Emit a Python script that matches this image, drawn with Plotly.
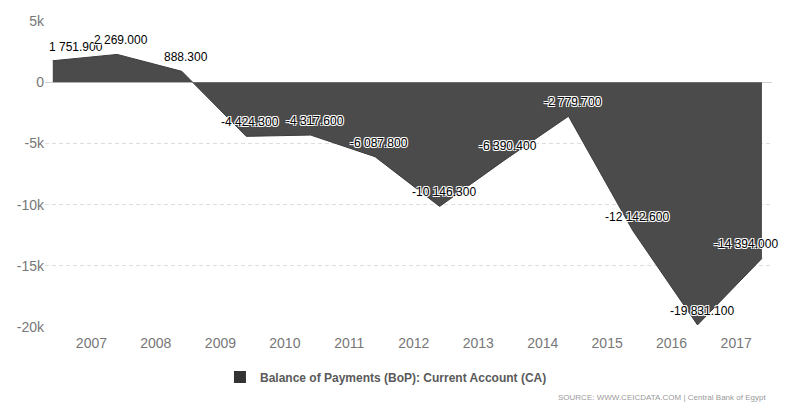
import plotly.graph_objects as go

# Data (annual, fiscal year ending June)
periods = ["2006-06-30", "2007-06-30", "2008-06-30", "2009-06-30", "2010-06-30", "2011-06-30",
           "2012-06-30", "2013-06-30", "2014-06-30", "2015-06-30", "2016-06-30", "2017-06-30"]
current_account = [1751.9, 2269.0, 888.3, -4424.3, -4317.6, -6087.8,
                   -10146.3, -6390.4, -2779.7, -12142.6, -19831.1, -14394.0]
year_ticks = ["2007-01-01", "2008-01-01", "2009-01-01", "2010-01-01", "2011-01-01", "2012-01-01",
              "2013-01-01", "2014-01-01", "2015-01-01", "2016-01-01", "2017-01-01"]
year_labels = ["2007", "2008", "2009", "2010", "2011", "2012", "2013", "2014", "2015", "2016", "2017"]
y_ticks = [5000, 0, -5000, -10000, -15000, -20000]
y_labels = ["5k", "0", "-5k", "-10k", "-15k", "-20k"]
series_name = "Balance of Payments (BoP): Current Account (CA)"
source_text = "SOURCE: WWW.CEICDATA.COM | Central Bank of Egypt"

FONT = "Liberation Sans, Arial, sans-serif"

fig = go.Figure()
fig.add_trace(go.Scatter(
    x=periods, y=current_account, name=series_name,
    mode="lines", fill="tozeroy",
    fillcolor="#4b4b4b", line=dict(color="#3c3c3c", width=1),
    hoverinfo="x+y", showlegend=False,
))
# legend entry drawn as a square swatch, like the original
fig.add_trace(go.Scatter(
    x=[None], y=[None], name=series_name, mode="markers",
    marker=dict(symbol="square", size=12, color="#333333"),
    showlegend=True, hoverinfo="skip",
))


def fmt(v):
    return f"{v:,.3f}".replace(",", " ")


outline = "1px 1px 0 #fff, -1px -1px 0 #fff, 1px -1px 0 #fff, -1px 1px 0 #fff"
n = len(periods)
for i, (p, v) in enumerate(zip(periods, current_account)):
    if i == 0:
        xanchor, xshift = "left", -6
    elif i == n - 1:
        xanchor, xshift = "right", 18
    else:
        xanchor, xshift = "center", 4
    fig.add_annotation(
        x=p, y=v, text=fmt(v), showarrow=False,
        xanchor=xanchor, yanchor="middle", xshift=xshift, yshift=14,
        font=dict(family=FONT, size=12, color="#000", shadow=outline),
    )

fig.add_annotation(
    xref="paper", yref="paper", x=0.9945, y=-0.23, xanchor="right", yanchor="middle",
    text=source_text, showarrow=False,
    font=dict(family=FONT, size=8, color="#9a9a9a"),
)

fig.update_layout(
    width=793, height=406,
    margin=dict(l=45, r=21, t=21, b=79, autoexpand=False),
    paper_bgcolor="white", plot_bgcolor="white",
    showlegend=True,
    legend=dict(orientation="h", xref="paper", x=0.469, xanchor="center",
                yref="container", y=0.0714, yanchor="middle",
                font=dict(family=FONT, size=12, color="#5a5a5a", weight="bold")),
    xaxis=dict(
        type="date", range=["2006-05-17", "2017-08-26"],
        tickvals=year_ticks, ticktext=year_labels,
        showgrid=False, zeroline=False, showline=False, ticks="",
        ticklabelshift=6, ticklabelstandoff=6,
        tickfont=dict(family=FONT, size=14, color="#777"),
    ),
    yaxis=dict(
        range=[-20000, 5000], tickvals=y_ticks, ticktext=y_labels,
        showgrid=True, gridcolor="#dedede", griddash="4px,3px", gridwidth=1,
        zeroline=True, zerolinecolor="#d0d0d0", zerolinewidth=1,
        showline=False, ticks="",
        tickfont=dict(family=FONT, size=14, color="#777"),
    ),
)

fig.write_html("out.html", config={"displayModeBar": False},
               post_script="document.body.style.margin='0';document.body.style.overflow='hidden';")
